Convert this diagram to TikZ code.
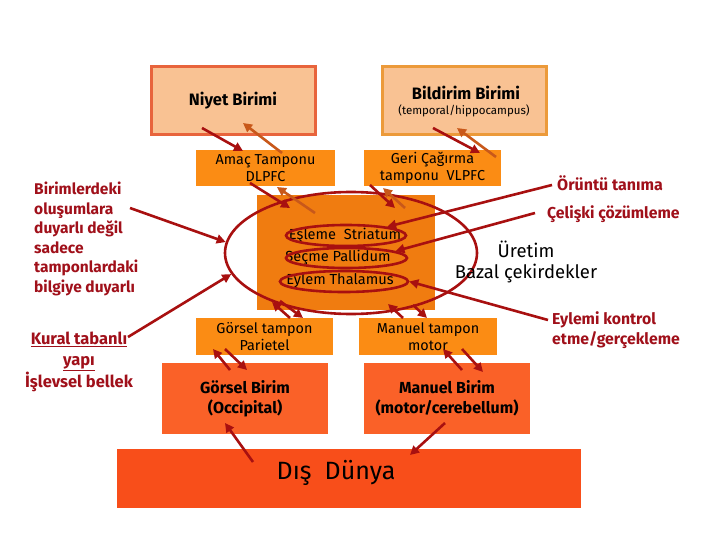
\documentclass[tikz,border=0pt]{standalone}
\usepackage{fontspec}
\setmainfont{Fira Sans}
\usetikzlibrary{arrows.meta,shapes.geometric,calc}
\definecolor{niyetfill}{HTML}{F9C293}
\definecolor{niyetdraw}{HTML}{E8643C}
\definecolor{bilddraw}{HTML}{EC9A3A}
\definecolor{tampfill}{HTML}{FB8C14}
\definecolor{centfill}{HTML}{F07C10}
\definecolor{birimfill}{HTML}{FA6128}
\definecolor{disfill}{HTML}{F84E1A}
\definecolor{dred}{HTML}{A81010}
\definecolor{oarr}{HTML}{C8581A}
\definecolor{lblred}{HTML}{A0101A}
\tikzset{
  unitbox/.style={fill=niyetfill, line width=3pt, inner sep=0pt, align=center},
  tampbox/.style={fill=tampfill, inner sep=0pt, align=center, font=\fontsize{14.4}{16.5}\selectfont},
  birimbox/.style={fill=birimfill, inner sep=0pt, align=center, font=\fontsize{16}{20}\selectfont\bfseries},
  rarr/.style={draw=dred, line width=2.6pt, -{Triangle[length=9pt,width=9pt]}},
  oarrow/.style={draw=oarr, line width=2.6pt, -{Triangle[length=9pt,width=9pt]}},
  ell/.style={ellipse, draw=dred, line width=2.6pt, inner sep=0pt},
  lbl/.style={text=lblred, inner sep=0pt, font=\fontsize{15.5}{19.5}\selectfont\bfseries},
  ctext/.style={inner sep=0pt, font=\fontsize{14.6}{15}\selectfont}
}
\begin{document}
\begin{tikzpicture}[x=1pt,y=-1pt]
\useasboundingbox (0,0) rectangle (720,540);
% units
\node[unitbox, draw=niyetdraw, minimum width=164pt, minimum height=68pt, font=\fontsize{16.5}{18}\selectfont\bfseries] (niyet) at (233,101) {Niyet Birimi};
\node[unitbox, draw=bilddraw, minimum width=164pt, minimum height=68pt] (bild) at (464,101) {};
\node[inner sep=0pt, font=\fontsize{16.5}{18}\selectfont\bfseries] (bildt) at (466,93) {Bildirim Birimi};
\node[inner sep=0pt, font=\fontsize{11.5}{12}\selectfont] (bilds) at (464,111) {(temporal/hippocampus)};
% tampons
\node[tampbox, minimum width=139pt, minimum height=36pt] (amac) at (265.5,168) {Amaç Tamponu\\DLPFC};
\node[tampbox, minimum width=137pt, minimum height=36pt] (geri) at (432.5,168) {Geri Çağırma\\tamponu\ \ VLPFC};
\node[fill=centfill, inner sep=0pt, minimum width=178pt, minimum height=115pt] (cent) at (346,252.5) {};
\node[tampbox, minimum width=137pt, minimum height=37pt] (gtamp) at (264.5,336.5) {Görsel tampon\\Parietel};
\node[tampbox, minimum width=138pt, minimum height=37pt] (mtamp) at (428,336.5) {Manuel tampon\\motor};
\node[birimbox, minimum width=166pt, minimum height=71pt] (gbirim) at (245,398.5) {Görsel Birim\\(Occipital)};
\node[birimbox, minimum width=166pt, minimum height=71pt] (mbirim) at (447,398.5) {Manuel Birim\\(motor/cerebellum)};
\node[fill=disfill, inner sep=0pt, minimum width=464pt, minimum height=59pt] (dis) at (349,478.5) {};
\node[inner sep=0pt, font=\fontsize{25}{26}\selectfont] (dist) at (336,473) {Dış\ \ Dünya};
% central texts and ellipses
\node[ctext] (strt) at (345,235.5) {Eşleme\ \ Striatum};
\node[ctext] (pallt) at (338,258) {Seçme Pallidum};
\node[ctext] (thalt) at (340,281) {Eylem Thalamus};
\node[ell, minimum width=120pt, minimum height=21pt] (striatum) at (346,235.5) {};
\node[ell, minimum width=121pt, minimum height=20pt] (pallidum) at (346.5,258) {};
\node[ell, minimum width=128pt, minimum height=21pt] (thalamus) at (344,281.5) {};
\node[ell, minimum width=252pt, minimum height=122pt] (big) at (351,253) {};
% labels
\node[lbl, anchor=north west, align=left] (duyarli) at (34,182) {Birimlerdeki\\oluşumlara\\duyarlı değil\\sadece\\tamponlardaki\\bilgiye duyarlı};
\node[lbl, align=center, font=\fontsize{16.5}{20.5}\selectfont\bfseries] (kural) at (79,362) {\underline{Kural tabanlı}\\\underline{yapı}\\İşlevsel bellek};
\node[lbl, anchor=west, font=\fontsize{16}{19}\selectfont\bfseries] (oruntu) at (557,183) {Örüntü tanıma};
\node[lbl, anchor=west, font=\fontsize{15.8}{19}\selectfont\bfseries] (celiski) at (547,214) {Çelişki çözümleme};
\node[lbl, anchor=north west, align=left, font=\fontsize{15.8}{20}\selectfont\bfseries] (eylemi) at (552,311) {Eylemi kontrol\\etme/gerçekleme};
\node[inner sep=0pt, align=center, font=\fontsize{18.5}{21}\selectfont] (uretim) at (526,262) {Üretim\\Bazal çekirdekler};
% arrows between units and tampons
\draw[rarr] ([shift={(-31,27)}]niyet.center) -- ([shift={(-22.5,-17)}]amac.center);
\draw[oarrow] ([shift={(16.5,-15)}]amac.center) -- ([shift={(10,22)}]niyet.center);
\draw[rarr] ([shift={(-31,27)}]bild.center) -- ([shift={(47.5,-15)}]geri.center);
\draw[oarrow] ([shift={(63.5,-11)}]geri.center) -- ([shift={(-7,27)}]bild.center);
\draw[rarr] ([shift={(-15.5,15)}]amac.center) -- ([shift={(-56,-44.5)}]cent.center);
\draw[oarrow] ([shift={(-31,-39.5)}]cent.center) -- ([shift={(11.5,19)}]amac.center);
\draw[rarr] ([shift={(-62.5,17)}]geri.center) -- ([shift={(49,-44.5)}]cent.center);
\draw[oarrow] ([shift={(59,-44.5)}]cent.center) -- ([shift={(-49.5,20)}]geri.center);
\draw[rarr] ([shift={(25.5,-18.5)}]gtamp.center) -- ([shift={(-74,49.5)}]cent.center);
\draw[rarr] ([shift={(-66,48.5)}]cent.center) -- ([shift={(38.5,-18.5)}]gtamp.center);
\draw[rarr] ([shift={(-25,-18.5)}]mtamp.center) -- ([shift={(42,51.5)}]cent.center);
\draw[rarr] ([shift={(67,52.5)}]cent.center) -- ([shift={(-1,-18.5)}]mtamp.center);
\draw[rarr] ([shift={(-15,-28.5)}]gbirim.center) -- ([shift={(-51.5,12.5)}]gtamp.center);
\draw[rarr] ([shift={(-39.5,12.5)}]gtamp.center) -- ([shift={(2,-28.5)}]gbirim.center);
\draw[rarr] ([shift={(15,-28.5)}]mbirim.center) -- ([shift={(15,12.5)}]mtamp.center);
\draw[rarr] ([shift={(34,12.5)}]mtamp.center) -- ([shift={(36,-26.5)}]mbirim.center);
\draw[rarr] ([shift={(-96,-16.5)}]dis.center) -- ([shift={(-20,24.5)}]gbirim.center);
\draw[rarr] ([shift={(-2,24.5)}]mbirim.center) -- ([shift={(61,-23.5)}]dis.center);
% label connectors
\draw[rarr] ([shift={(96,26)}]duyarli.north west) -- (big.175);
\draw[rarr] ([shift={(49,-25)}]kural.center) -- (big.190);
\draw[rarr] ([shift={(-5,2)}]oruntu.west) -- (striatum.12);
\draw[rarr] ([shift={(-12,-1)}]celiski.west) -- (pallidum.8);
\draw[rarr] ([shift={(-4,9)}]eylemi.north west) -- (thalamus.east);
\end{tikzpicture}
\end{document}
